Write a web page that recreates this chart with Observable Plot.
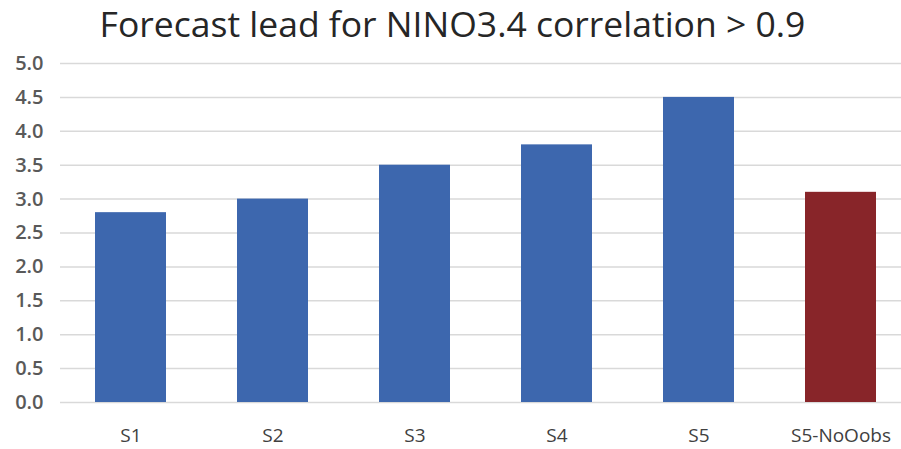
<!DOCTYPE html>
<html>
<head>
<meta charset="utf-8">
<script src="https://cdn.jsdelivr.net/npm/d3@7"></script>
<script src="https://cdn.jsdelivr.net/npm/@observablehq/plot@0.6"></script>
<style>
  html, body { margin: 0; padding: 0; background: #fff; }
  #title { height: 45px; line-height: 46px; text-align: center; font-family: "Open Sans", sans-serif; font-size: 35.5px; color: #262626; padding-left: 4px; white-space: nowrap; }
  svg { display: block; }
</style>
</head>
<body>
<div id="title">Forecast lead for NINO3.4 correlation &gt; 0.9</div>
<div id="chart"></div>
<script>
const categories = ["S1", "S2", "S3", "S4", "S5", "S5-NoOobs"];
const values = [2.8, 3.0, 3.5, 3.8, 4.5, 3.1];
const barColors = ["#3d67ae", "#3d67ae", "#3d67ae", "#3d67ae", "#3d67ae", "#882529"];
const yTicks = [0, 0.5, 1, 1.5, 2, 2.5, 3, 3.5, 4, 4.5, 5];

const data = categories.map((c, i) => ({cat: c, value: values[i], color: barColors[i]}));

const chart = Plot.plot({
  width: 901,
  height: 404,
  marginTop: 18,
  marginBottom: 47,
  marginLeft: 60,
  marginRight: 0,
  style: {fontFamily: "Open Sans, sans-serif", color: "#595959", background: "#fff"},
  x: {domain: categories, range: [60, 911], paddingInner: 0.5, paddingOuter: 0.24, label: null},
  y: {domain: [0, 5], label: null},
  marks: [
    Plot.ruleY(yTicks, {stroke: "#d9d9d9", strokeWidth: 1.5}),
    Plot.barY(data, {x: "cat", y: "value", fill: "color"}),
    Plot.axisY({ticks: yTicks, tickFormat: d => d.toFixed(1), tickSize: 0, tickPadding: 17, fontSize: 20, fill: "#595959", fontWeight: "600", label: null}),
    Plot.axisX({tickSize: 0, tickPadding: 26, fontSize: 19, fill: "#404040", label: null})
  ]
});
document.getElementById("chart").appendChild(chart);
</script>
</body>
</html>
